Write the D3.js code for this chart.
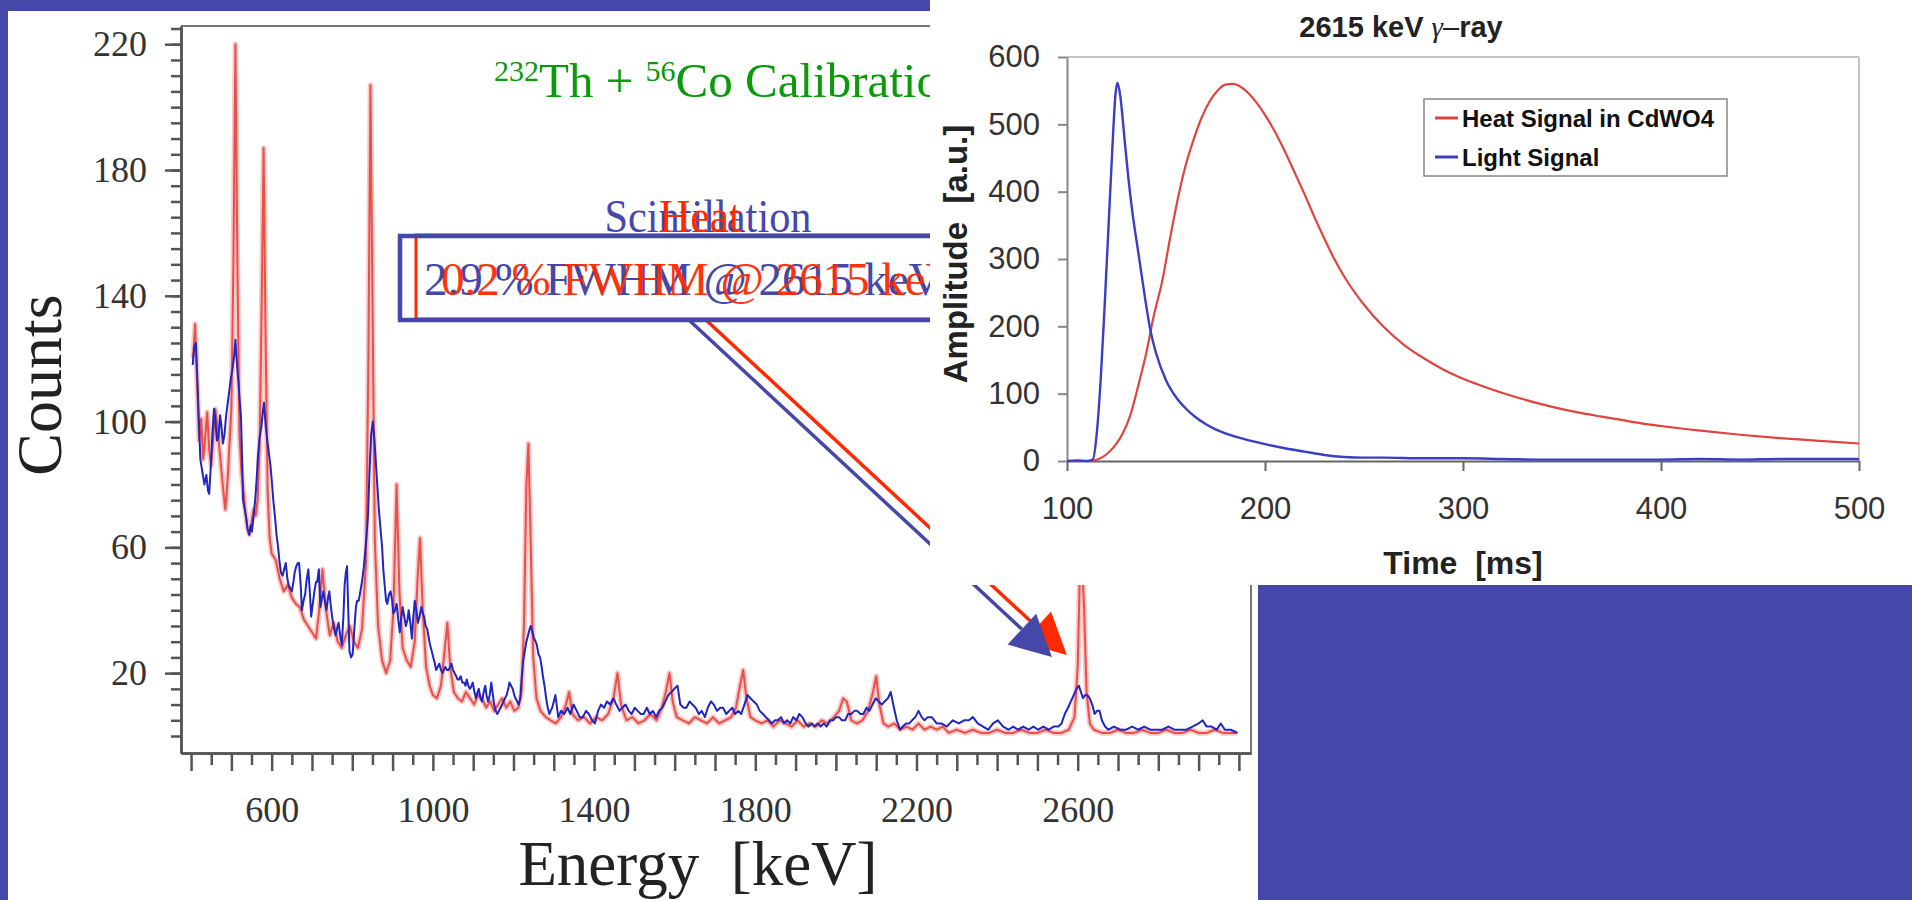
<!DOCTYPE html>
<html>
<head>
<meta charset="utf-8">
<script src="https://cdn.jsdelivr.net/npm/d3@7"></script>
<style>
  body { margin: 0; background: #4547a9; overflow: hidden; }
  svg { display: block; }
</style>
</head>
<body>
<svg id="chart" width="1912" height="900"></svg>
<script>
// ---- spectrum data (energy keV, counts) ----
const countTicks = [20, 60, 100, 140, 180, 220];
const energyTicks = [600, 1000, 1400, 1800, 2200, 2600];

const heatSpectrum = [
  [405,120],[410,131],[415,112],[420,94],[425,101],[430,88],[435,95],[440,103],[445,91],[450,86],
  [455,95],[460,104],[465,99],[470,92],[475,85],[480,78],[485,72],[490,80],[495,92],[500,104],
  [505,150],[510,220],[515,150],[520,96],[525,84],[530,78],[535,71],[540,66],[545,64],[550,68],
  [555,72],[560,70],[565,75],[570,92],[575,135],[580,187],[585,125],[590,78],[595,63],[600,58],
  [610,56],[620,50],[630,46],[640,48],[650,44],[660,42],[670,41],[680,37],[690,35],[700,33],
  [710,31],[718,40],[726,53],[734,41],[744,32],[754,36],[764,30],[774,28],[784,32],[794,35],
  [804,30],[814,28],[824,34],[834,55],[840,120],[845,207],[850,140],[856,62],[864,35],[874,24],
  [884,20],[894,24],[902,40],[910,80],[917,46],[925,28],[935,24],[945,22],[955,30],[962,50],
  [968,63],[975,40],[983,22],[992,16],[1000,13],[1010,12],[1020,16],[1029,27],[1036,36],[1043,22],
  [1052,14],[1062,12],[1072,11],[1082,14],[1092,12],[1102,10],[1112,13],[1122,12],[1132,9],[1142,11],
  [1152,8],[1162,10],[1172,12],[1182,9],[1192,11],[1202,8],[1212,9],[1220,14],[1226,35],[1232,80],
  [1237,93],[1243,60],[1249,25],[1257,12],[1267,8],[1280,6],[1292,5],[1305,4],[1318,6],[1330,10],
  [1338,14],[1346,7],[1360,5],[1375,6],[1390,4],[1405,6],[1420,5],[1435,7],[1448,12],[1458,20],
  [1467,10],[1480,5],[1495,6],[1510,4],[1525,5],[1540,7],[1555,5],[1568,9],[1578,14],[1587,20],
  [1595,11],[1605,6],[1620,5],[1635,4],[1650,6],[1665,5],[1680,4],[1695,6],[1710,4],[1725,5],
  [1740,6],[1752,9],[1762,16],[1770,21],[1778,12],[1788,6],[1800,5],[1815,4],[1830,5],[1845,3],
  [1860,5],[1875,4],[1890,3],[1905,5],[1920,3],[1935,4],[1950,3],[1965,5],[1980,4],[1995,6],
  [2008,8],[2018,12],[2027,11],[2038,5],[2052,4],[2066,5],[2080,8],[2092,14],[2100,19],[2108,10],
  [2118,4],[2130,3],[2145,4],[2160,2],[2175,3],[2190,2],[2205,4],[2220,2],[2235,3],[2250,2],
  [2265,3],[2280,1],[2300,2],[2320,1],[2340,2],[2360,1],[2380,1],[2400,2],[2420,1],[2440,1],
  [2460,2],[2480,1],[2500,1],[2520,2],[2540,1],[2560,1],[2578,2],[2592,6],[2600,22],[2605,50],
  [2610,58],[2616,40],[2622,14],[2630,4],[2640,2],[2660,1],[2680,1],[2700,2],[2720,1],[2740,1],
  [2760,2],[2780,1],[2800,1],[2820,2],[2840,1],[2860,1],[2880,2],[2900,1],[2920,1],[2940,2],
  [2960,1],[2980,1],[2996,1]
];

const lightSpectrum = [
  [404,118],[408,124],[412,125],[416,112],[420,98],[423,88],[428,84],[433,80],[438,83],[442,78],
  [445,77],[449,86],[453,96],[457,104],[460,101],[464,94],[468,95],[472,102],[475,99],[479,93],
  [483,96],[487,102],[491,106],[494,109],[498,113],[503,117],[507,121],[510,126],[514,118],[518,112],
  [521,106],[524,101],[529,75],[536,70],[540,66],[544,64],[548,67],[551,65],[555,70],[559,75],
  [563,82],[566,89],[570,95],[574,98],[578,103],[581,106],[585,99],[589,94],[593,90],[597,86],
  [601,80],[604,75],[608,70],[612,64],[616,60],[619,56],[623,52],[627,51],[631,53],[635,55],
  [639,50],[642,48],[646,47],[650,46],[654,49],[657,52],[661,54],[665,55],[668,55],[672,48],
  [675,40],[679,43],[683,45],[687,50],[691,53],[695,45],[698,38],[702,42],[706,46],[710,49],
  [713,49],[717,53],[721,41],[725,44],[728,46],[732,43],[736,40],[740,44],[743,46],[747,41],
  [751,37],[755,34],[759,32],[762,34],[766,36],[770,32],[774,29],[778,38],[781,48],[784,52],
  [787,54],[790,40],[793,27],[797,25],[801,26],[805,34],[809,41],[812,43],[816,43],[820,46],
  [824,49],[828,53],[831,57],[835,63],[839,70],[843,85],[847,96],[851,100],[855,94],[858,88],
  [862,80],[866,72],[870,66],[874,60],[877,53],[881,47],[884,43],[887,42],[891,45],[895,46],
  [899,43],[902,39],[906,40],[910,42],[914,37],[918,33],[921,37],[925,41],[929,38],[933,35],
  [937,37],[940,40],[944,36],[948,31],[951,37],[955,43],[959,40],[963,36],[967,38],[971,41],
  [975,39],[978,38],[982,35],[986,34],[990,31],[993,29],[997,27],[1001,25],[1005,23],[1008,21],
  [1012,22],[1016,23],[1020,21],[1024,20],[1027,21],[1031,22],[1035,21],[1039,21],[1043,22],[1046,23],
  [1050,21],[1054,20],[1058,19],[1061,18],[1065,18],[1069,19],[1073,17],[1077,17],[1081,16],[1084,18],
  [1088,16],[1092,15],[1096,16],[1099,17],[1103,14],[1107,12],[1111,14],[1114,15],[1118,12],[1122,11],
  [1126,14],[1130,16],[1133,13],[1137,11],[1141,13],[1145,17],[1149,13],[1152,10],[1156,8],[1160,7],
  [1164,8],[1168,9],[1172,10],[1175,11],[1179,12],[1183,13],[1187,15],[1190,17],[1194,16],[1198,15],
  [1202,13],[1205,12],[1209,11],[1213,10],[1217,12],[1220,18],[1224,24],[1228,27],[1232,30],[1236,32],
  [1240,34],[1243,35],[1247,33],[1251,31],[1255,30],[1258,29],[1262,26],[1266,25],[1270,22],[1273,19],
  [1277,16],[1281,12],[1285,9],[1289,7],[1292,8],[1296,9],[1300,11],[1304,13],[1308,9],[1311,6],
  [1318,8],[1326,7],[1334,9],[1341,7],[1349,10],[1357,8],[1364,6],[1372,6],[1380,8],[1387,7],
  [1395,5],[1402,4],[1410,8],[1417,10],[1425,9],[1432,11],[1440,10],[1448,12],[1455,10],[1463,8],
  [1470,9],[1478,10],[1486,8],[1493,7],[1501,9],[1508,8],[1516,7],[1523,7],[1531,9],[1538,7],
  [1546,8],[1554,6],[1561,8],[1569,9],[1577,11],[1584,13],[1592,14],[1599,15],[1607,16],[1614,10],
  [1622,9],[1629,9],[1637,11],[1644,10],[1652,9],[1660,7],[1667,8],[1675,6],[1682,9],[1690,11],
  [1697,10],[1705,8],[1713,9],[1720,9],[1728,7],[1735,8],[1743,9],[1750,7],[1758,8],[1765,7],
  [1773,10],[1781,13],[1788,12],[1796,11],[1804,10],[1811,8],[1819,7],[1826,6],[1834,5],[1841,4],
  [1849,5],[1856,5],[1864,6],[1871,4],[1879,5],[1887,4],[1894,6],[1902,5],[1909,7],[1917,6],
  [1925,4],[1932,3],[1940,4],[1947,3],[1955,4],[1962,3],[1970,4],[1977,3],[1985,5],[1993,5],
  [2000,6],[2008,6],[2015,5],[2023,5],[2030,7],[2038,7],[2046,8],[2053,8],[2061,7],[2068,7],
  [2076,9],[2083,8],[2091,10],[2099,12],[2106,11],[2114,10],[2121,11],[2129,12],[2136,14],[2144,9],
  [2151,5],[2159,2],[2166,3],[2174,4],[2182,4],[2189,5],[2197,6],[2205,8],[2213,6],[2220,5],
  [2228,6],[2238,6],[2250,4],[2262,4],[2275,3],[2290,5],[2305,4],[2318,5],[2330,5],[2340,6],
  [2352,4],[2365,3],[2378,2],[2390,4],[2402,5],[2415,3],[2428,2],[2440,3],[2452,2],[2465,3],
  [2478,2],[2490,3],[2502,2],[2515,3],[2528,2],[2540,3],[2552,3],[2560,4],[2568,7],[2576,9],
  [2583,11],[2590,13],[2597,15],[2603,16],[2608,14],[2613,12],[2618,13],[2624,13],[2630,12],[2636,10],
  [2642,7],[2648,8],[2654,8],[2660,5],[2668,3],[2676,2],[2690,3],[2705,2],[2720,2],[2735,3],
  [2750,2],[2765,3],[2780,2],[2795,2],[2810,2],[2825,3],[2840,2],[2855,2],[2870,2],[2885,3],
  [2900,4],[2910,5],[2920,3],[2932,3],[2945,2],[2955,4],[2965,2],[2980,2],[2996,1]
];

// ---- pulse data (time ms, amplitude a.u.) ----
const timeTicks = [100, 200, 300, 400, 500];
const ampTicks = [0, 100, 200, 300, 400, 500, 600];

const heatPulse = [
  [100,0],[106,0],[112,0],[116,3],[120,10],[124,22],[128,40],[132,68],[136,112],[140,160],
  [144,218],[148,266],[152,330],[156,390],[160,440],[164,478],[168,510],[172,534],[176,550],[180,559],
  [184,560],[188,555],[192,545],[196,531],[200,514],[205,489],[210,460],[215,428],[220,396],[225,362],
  [230,330],[235,300],[240,274],[250,232],[260,199],[270,173],[280,153],[290,136],[300,122],[310,111],
  [320,101],[330,92],[340,84],[350,77],[360,71],[370,66],[380,61],[390,56],[400,52],[420,45],
  [440,39],[460,34],[480,30],[500,26]
];

const lightPulse = [
  [100,0],[105,1],[110,0],[113,2],[115,40],[117,120],[119,230],[121,350],[123,470],[124.5,545],
  [125.5,562],[127,540],[129,480],[131,420],[133,370],[136,310],[139,250],[142,196],[145,160],[150,120],
  [155,95],[160,78],[165,65],[170,55],[175,47],[180,41],[190,32],[200,25],[210,19],[220,14],
  [230,9],[240,6],[250,5],[260,5],[280,4],[300,4],[320,3],[340,2],[360,2],[380,2],
  [400,2],[420,3],[440,2],[460,3],[480,3],[500,3]
];

// arrow tips, in spectrum coordinates (keV, counts)
const heatArrowTip = [2573, 25.8];
const lightArrowTip = [2536, 25.1];

const purple = "#4547a9";
const heatRed = "#ff2a00";
const serif = "Liberation Serif";
const sans = "Liberation Sans";

const svg = d3.select("#chart");

// slide background
svg.append("rect").attr("width", 1912).attr("height", 900).attr("fill", purple);
svg.append("rect").attr("x", 8).attr("y", 11).attr("width", 1904).attr("height", 889).attr("fill", "#fff");

// ---- spectrum scales ----
const xE = d3.scaleLinear().domain([375, 3030]).range([181, 1251]);
const yE = d3.scaleLinear().domain([-5.4, 225.8]).range([753, 26]);

// frame (top & right)
svg.append("line").attr("x1", 181).attr("x2", 1251).attr("y1", 26).attr("y2", 26)
    .attr("stroke", "#777").attr("stroke-width", 2);
svg.append("line").attr("x1", 1251).attr("x2", 1251).attr("y1", 26).attr("y2", 753)
    .attr("stroke", "#777").attr("stroke-width", 2);

function styleAxis(g, color, w) {
  g.select(".domain").attr("stroke", color).attr("stroke-width", w);
  g.selectAll(".tick line").attr("stroke", color).attr("stroke-width", w);
}

// y axis: minor and major ticks
const yMinor = svg.append("g").attr("transform", "translate(181,0)")
    .call(d3.axisLeft(yE).tickValues(d3.range(0, 226, 5)).tickSize(10).tickFormat("").tickSizeOuter(0));
styleAxis(yMinor, "#555", 2.5);
const yMajor = svg.append("g").attr("transform", "translate(181,0)")
    .call(d3.axisLeft(yE).tickValues(countTicks).tickSize(16).tickPadding(18).tickSizeOuter(0));
styleAxis(yMajor, "#555", 2.5);
yMajor.selectAll("text").attr("font-family", serif).attr("font-size", 36).attr("fill", "#333");

// x axis: 50 keV minor, 100 keV major
const xMinor = svg.append("g").attr("transform", "translate(0,753)")
    .call(d3.axisBottom(xE).tickValues(d3.range(450, 3000, 100)).tickSize(12).tickFormat("").tickSizeOuter(0));
styleAxis(xMinor, "#555", 2.5);
const xMajor = svg.append("g").attr("transform", "translate(0,753)")
    .call(d3.axisBottom(xE).tickValues(d3.range(400, 3001, 100)).tickSize(18).tickPadding(25)
      .tickFormat(d => energyTicks.includes(d) ? d : "").tickSizeOuter(0));
styleAxis(xMajor, "#555", 2.5);
xMajor.selectAll("text").attr("font-family", serif).attr("font-size", 36).attr("fill", "#333");

// axis titles
svg.append("text").attr("transform", "translate(61,385) rotate(-90)")
    .attr("text-anchor", "middle").attr("font-family", serif).attr("font-size", 64).attr("fill", "#222")
    .text("Counts");
svg.append("text").attr("x", 698).attr("y", 885)
    .attr("text-anchor", "middle").attr("font-family", serif).attr("font-size", 63).attr("fill", "#222")
    .text("Energy\u00a0\u00a0[keV]");

// spectra
const specLine = d3.line().x(d => xE(d[0])).y(d => yE(d[1]));
svg.append("path").datum(heatSpectrum).attr("d", specLine)
    .attr("fill", "none").attr("stroke", "#f9c8c8").attr("stroke-width", 5.5).attr("stroke-linejoin", "round");
svg.append("path").datum(heatSpectrum).attr("d", specLine)
    .attr("fill", "none").attr("stroke", "#ea4f48").attr("stroke-width", 2).attr("stroke-linejoin", "round");
svg.append("path").datum(lightSpectrum).attr("d", specLine)
    .attr("fill", "none").attr("stroke", "#1f26c2").attr("stroke-width", 2).attr("stroke-linejoin", "round");

// ---- title of the spectrum ----
const title = svg.append("text").attr("x", 494).attr("y", 97)
    .attr("font-family", serif).attr("font-size", 49).attr("fill", "#0a9a0a");
title.append("tspan").attr("font-size", 30).attr("dy", -16).text("232");
title.append("tspan").attr("dy", 16).text("Th + ");
title.append("tspan").attr("font-size", 30).attr("dy", -16).text("56");
title.append("tspan").attr("dy", 16).text("Co Calibration");

// ---- annotation: arrows ----
function arrow(start, tipData, color) {
  const tx = xE(tipData[0]), ty = yE(tipData[1]);
  const dx = tx - start[0], dy = ty - start[1], len = Math.hypot(dx, dy);
  const ux = dx / len, uy = dy / len;
  const bx = tx - 41 * ux, by = ty - 41 * uy;
  svg.append("line").attr("x1", start[0]).attr("y1", start[1]).attr("x2", bx).attr("y2", by)
      .attr("stroke", color).attr("stroke-width", 3.5);
  svg.append("path")
      .attr("d", `M${tx},${ty}L${bx - 21 * uy},${by + 21 * ux}L${bx + 21 * uy},${by - 21 * ux}Z`)
      .attr("fill", color);
}
arrow([706, 320], heatArrowTip, heatRed);
arrow([690, 321], lightArrowTip, purple);

// boxes (heat box sits slightly right of the scintillation box)
svg.append("rect").attr("x", 416).attr("y", 235).attr("width", 600).attr("height", 84)
    .attr("fill", "#fff").attr("stroke", heatRed).attr("stroke-width", 3);
svg.append("rect").attr("x", 400).attr("y", 236).attr("width", 640).attr("height", 84)
    .attr("fill", "none").attr("stroke", purple).attr("stroke-width", 4.5);

svg.append("text").attr("x", 708).attr("y", 232).attr("text-anchor", "middle")
    .attr("font-family", serif).attr("font-size", 47).attr("fill", purple)
    .attr("textLength", 207).attr("lengthAdjust", "spacingAndGlyphs").text("Scintillation");
svg.append("text").attr("x", 700).attr("y", 232).attr("text-anchor", "middle")
    .attr("font-family", serif).attr("font-size", 47).attr("fill", heatRed)
    .attr("textLength", 82).attr("lengthAdjust", "spacingAndGlyphs").text("Heat");

svg.append("text").attr("x", 424).attr("y", 295)
    .attr("font-family", serif).attr("font-size", 47).attr("fill", purple)
    .text("2.9 % FWHM @ 2615 keV");
svg.append("text").attr("x", 441).attr("y", 295)
    .attr("font-family", serif).attr("font-size", 47).attr("fill", heatRed).attr("opacity", 0.95)
    .text("0.2 % FWHM @ 2615 keV");

// ---- inset: pulse shapes ----
svg.append("rect").attr("x", 930).attr("y", 0).attr("width", 982).attr("height", 585).attr("fill", "#fff");

const xT = d3.scaleLinear().domain([100, 500]).range([1067, 1859]);
const yA = d3.scaleLinear().domain([0, 600]).range([461, 57]);

svg.append("line").attr("x1", 1067).attr("x2", 1859).attr("y1", 57).attr("y2", 57)
    .attr("stroke", "#c4c4c4").attr("stroke-width", 2);
svg.append("line").attr("x1", 1859).attr("x2", 1859).attr("y1", 57).attr("y2", 461)
    .attr("stroke", "#c4c4c4").attr("stroke-width", 2);

const tAxis = svg.append("g").attr("transform", "translate(0,461)")
    .call(d3.axisBottom(xT).tickValues(timeTicks).tickSize(10).tickPadding(26).tickSizeOuter(0));
styleAxis(tAxis, "#666", 2);
tAxis.selectAll("text").attr("font-family", sans).attr("font-size", 31).attr("fill", "#333");

const aAxis = svg.append("g").attr("transform", "translate(1067,0)")
    .call(d3.axisLeft(yA).tickValues(ampTicks).tickSize(9).tickPadding(18).tickSizeOuter(0));
styleAxis(aAxis, "#888", 2);
aAxis.selectAll("text").attr("font-family", sans).attr("font-size", 31).attr("fill", "#333");

const pulseLine = d3.line().x(d => xT(d[0])).y(d => yA(d[1])).curve(d3.curveMonotoneX);
svg.append("path").datum(heatPulse).attr("d", pulseLine)
    .attr("fill", "none").attr("stroke", "#e0443f").attr("stroke-width", 2.2);
svg.append("path").datum(lightPulse).attr("d", pulseLine)
    .attr("fill", "none").attr("stroke", "#3a3ec4").attr("stroke-width", 2.4);

// inset titles
const pt = svg.append("text").attr("x", 1401).attr("y", 37).attr("text-anchor", "middle")
    .attr("font-family", sans).attr("font-size", 29).attr("font-weight", "bold").attr("fill", "#222");
pt.append("tspan").text("2615 keV ");
pt.append("tspan").attr("font-family", serif).attr("font-weight", "normal").attr("font-style", "italic").text("γ");
pt.append("tspan").attr("font-weight", "normal").text("–");
pt.append("tspan").text("ray");

svg.append("text").attr("transform", "translate(967,254) rotate(-90)").attr("text-anchor", "middle")
    .attr("font-family", sans).attr("font-size", 33).attr("font-weight", "bold").attr("fill", "#222")
    .text("Amplitude\u00a0\u00a0[a.u.]");
svg.append("text").attr("x", 1463).attr("y", 574).attr("text-anchor", "middle")
    .attr("font-family", sans).attr("font-size", 32).attr("font-weight", "bold").attr("fill", "#222")
    .text("Time\u00a0\u00a0[ms]");

// legend
const legendItems = [
  {label: "Heat Signal in CdWO4", color: "#e0443f"},
  {label: "Light Signal", color: "#3a3ec4"}
];
svg.append("rect").attr("x", 1424).attr("y", 99).attr("width", 303).attr("height", 77)
    .attr("fill", "#fff").attr("stroke", "#888").attr("stroke-width", 1.5);
const lg = svg.selectAll(".legend").data(legendItems).enter().append("g")
    .attr("transform", (d, i) => `translate(1435,${118 + i * 39})`);
lg.append("line").attr("x1", 0).attr("x2", 23).attr("stroke", d => d.color).attr("stroke-width", 3);
lg.append("text").attr("x", 27).attr("y", 9).attr("font-family", sans).attr("font-size", 24)
    .attr("font-weight", "bold").attr("fill", "#111").text(d => d.label);

// bottom-right slide block
svg.append("rect").attr("x", 1258).attr("y", 585).attr("width", 654).attr("height", 315).attr("fill", purple);
</script>
</body>
</html>
